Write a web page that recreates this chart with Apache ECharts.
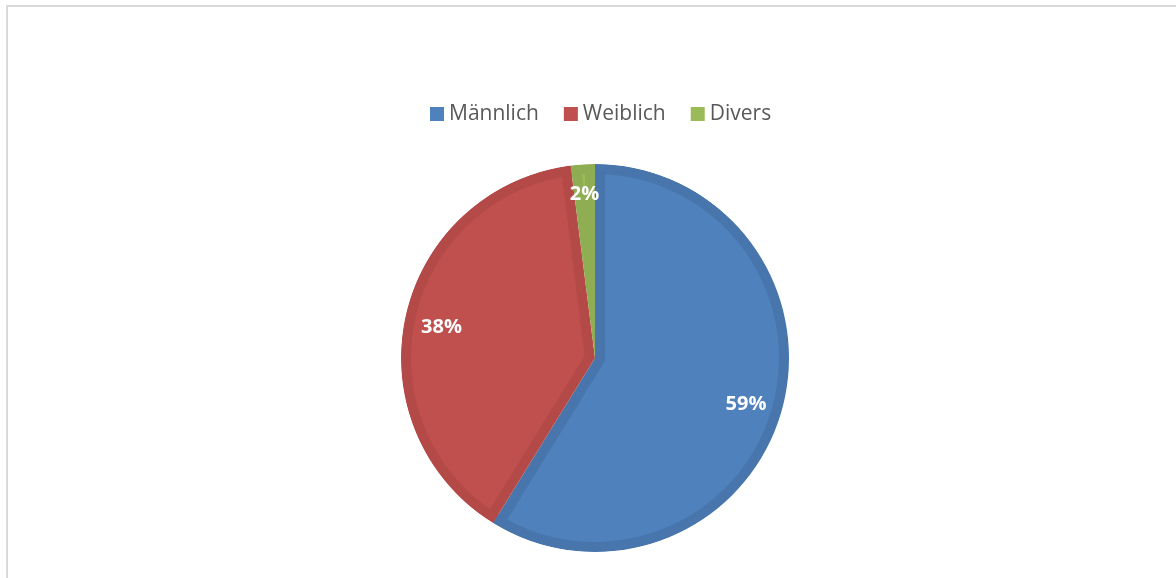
<!DOCTYPE html>
<html>
<head>
<meta charset="utf-8">
<script src="https://cdn.jsdelivr.net/npm/echarts@6.0.0/dist/echarts.min.js"></script>
<style>
html,body{margin:0;padding:0;background:#fff;}
#chart{width:1176px;height:578px;}
</style>
</head>
<body>
<div id="chart"></div>
<script>
// ---- data ----
const categories = ['Männlich', 'Weiblich', 'Divers'];
const values = [58.8, 39.2, 2.0];
const percentLabels = ['59%', '38%', '2%'];

// ---- style ----
const lightColors = ['#4f81bd', '#c0504d', '#9bbb59'];
const darkColors = ['#4775ac', '#b34a47', '#8fad52'];
const CX = 595, CY = 358, R = 194, W = 10;
const FONT = '"Open Sans", "Noto Sans", sans-serif';

const total = values.reduce((a, b) => a + b, 0);
const common = {
  type: 'pie', center: [CX, CY], startAngle: 90, clockwise: true,
  animation: false, silent: true, legendHoverLink: false,
  label: { show: false }, labelLine: { show: false },
  emphasis: { disabled: true }, avoidLabelOverlap: false
};

const series = [];
// dark base (gives radial borders)
series.push(Object.assign({}, common, {
  name: 'base', radius: R, z: 1,
  data: categories.map((n, i) => ({ name: n, value: values[i], itemStyle: { color: darkColors[i] } }))
}));
// light interiors, inset via selected offset
categories.forEach((cat, k) => {
  const alpha = values[k] / total * Math.PI;
  const d = W / Math.sin(alpha);
  const rk = R - W - d * Math.cos(alpha) + 1;
  series.push(Object.assign({}, common, {
    name: 'inner' + k, radius: rk, z: 2,
    selectedMode: 'multiple', selectedOffset: d,
    data: categories.map((n, i) => ({
      name: n, value: values[i], selected: i === k,
      itemStyle: { color: i === k ? lightColors[k] : 'rgba(0,0,0,0)' }
    }))
  }));
});
// dark outer ring
series.push(Object.assign({}, common, {
  name: 'ring', radius: [R - W, R], z: 3,
  data: categories.map((n, i) => ({ name: n, value: values[i], itemStyle: { color: darkColors[i] } }))
}));
// white mask outside
series.push(Object.assign({}, common, {
  name: 'mask', radius: [R, R + 20], z: 4,
  data: [{ name: '_mask', value: 1, itemStyle: { color: '#ffffff' } }]
}));
// labels (two radii: large slices, thin slice)
const labelStyle = {
  show: true, position: 'inside', color: '#ffffff', fontWeight: 'bold',
  fontSize: 20, fontFamily: FONT, offset: [0, 3],
  formatter: p => percentLabels[p.dataIndex]
};
[[114, [0, 1]], [134, [2]]].forEach(([r0, shown], j) => {
  series.push(Object.assign({}, common, {
    name: 'labels' + j, radius: [r0, R], z: 6,
    label: labelStyle,
    data: categories.map((n, i) => ({
      name: n, value: values[i], itemStyle: { color: 'rgba(0,0,0,0)' },
      label: { show: shown.indexOf(i) >= 0 }
    }))
  }));
});

const chart = echarts.init(document.getElementById('chart'), null, { renderer: 'canvas' });
chart.setOption({
  backgroundColor: '#ffffff',
  animation: false,
  graphic: [{
    type: 'rect', x: 7, y: 6, silent: true,
    shape: { x: 0, y: 0, width: 1200, height: 600 },
    style: { fill: 'none', stroke: '#d9d9d9', lineWidth: 2 }
  }],
  legend: {
    left: 430, top: 102, orient: 'horizontal', padding: 0,
    icon: 'rect', itemWidth: 14, itemHeight: 14, itemGap: 25,
    textStyle: { fontSize: 21, color: '#595959', fontFamily: FONT, lineHeight: 24 },
    data: categories.map((n, i) => ({ name: n, itemStyle: { color: lightColors[i] } }))
  },
  series: series
});
</script>
</body>
</html>
